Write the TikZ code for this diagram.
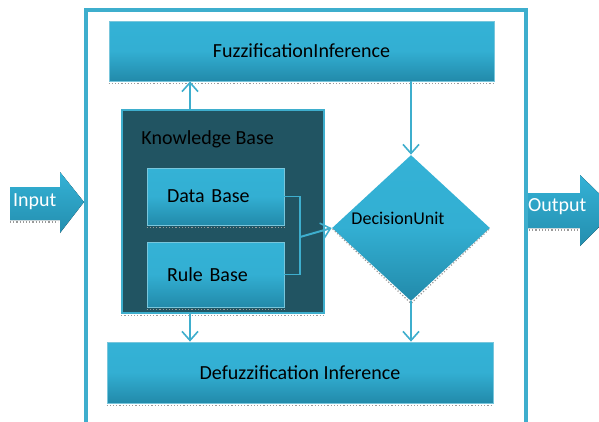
\documentclass[tikz,border=0pt]{standalone}
\usepackage{fontspec}
\setmainfont{Carlito}
\usetikzlibrary{arrows.meta,shapes.geometric}
\definecolor{boxtop}{RGB}{52,178,214}
\definecolor{boxbot}{RGB}{34,138,170}
\definecolor{kbfill}{RGB}{33,84,98}
\definecolor{lineblue}{RGB}{62,174,205}
\tikzset{
  unitbox/.style={draw=lineblue!70!white,line width=0.8pt,top color=boxtop,bottom color=boxbot,middle color=boxtop!92!boxbot,inner sep=0pt},
  flow/.style={draw=lineblue,line width=2pt,-{Straight Barb[length=9pt,width=16pt,line width=1.6pt]}},
  jag/.style={draw=gray!80,line width=1.2pt,dotted},
  ioarrow/.style={top color=boxtop,bottom color=boxbot!90!boxtop},
  iotext/.style={text=white,font=\fontsize{20}{24}\selectfont}
}
\begin{document}
\begin{tikzpicture}[x=1pt,y=-1pt,font=\fontsize{20}{24}\selectfont]
\clip (0,0) rectangle (599,421);
\fill[white] (0,0) rectangle (599,421);

% outer frame
\draw[lineblue,line width=3.5pt] (86,440) -- (86,10) -- (526,10) -- (526,440);

% input / output arrows
\fill[ioarrow] (10,187) -- (60,187) -- (60,172) -- (84,202) -- (60,233) -- (60,220) -- (10,220) -- cycle;
\node[iotext,anchor=west,inner sep=0pt] (intext) at (13,202) {Input};
\fill[ioarrow] (528,193) -- (580,193) -- (580,175) -- (616,210) -- (580,246) -- (580,228) -- (528,228) -- cycle;
\node[iotext,anchor=west,inner sep=0pt] (outtext) at (528,207) {Output};
\draw[jag] (10,222) -- (58,222);
\draw[jag] (529,230) -- (578,230);

% main boxes
\node[unitbox,minimum width=385pt,minimum height=60pt] (fuzz) at (301.5,51) {FuzzificationInference};
\node[unitbox,minimum width=386pt,minimum height=61pt] (defuzz) at (300,372.5) {Defuzzification Inference};

% knowledge base
\node[draw=lineblue,line width=1.5pt,fill=kbfill,minimum width=202pt,minimum height=203pt] (kb) at (223,211.5) {};
\node[anchor=west,inner sep=0pt] (kbtext) at ([xshift=20pt,yshift=-30pt]kb.north west) {Knowledge Base};
\node[unitbox,minimum width=137pt,minimum height=57pt,text width=97pt,align=left] (db) at (215.5,196.5) {Data Base};
\node[unitbox,minimum width=137pt,minimum height=65pt,text width=97pt,align=left] (rb) at (215.5,274.5) {Rule Base};

% decision unit
\node[diamond,unitbox,draw=none,minimum width=158pt,minimum height=146pt] (dec) at (411,228) {};
\node[font=\fontsize{18}{22}\selectfont,inner sep=0pt] (dectext) at ([xshift=-13pt,yshift=10pt]dec.center) {DecisionUnit};

% shadows
\draw[jag] ([yshift=-2pt]fuzz.south west) -- ([yshift=-2pt]fuzz.south east);
\draw[jag] ([yshift=-2pt]defuzz.south west) -- ([yshift=-2pt]defuzz.south east);
\draw[jag] ([yshift=-2pt]kb.south west) -- ([yshift=-2pt]kb.south east);
\draw[jag] ([yshift=-2pt]db.south west) -- ([yshift=-2pt]db.south east);
\draw[jag] ([yshift=-2pt]rb.south west) -- ([yshift=-2pt]rb.south east);
\draw[jag] ([xshift=1pt,yshift=-1pt]dec.west) -- ([yshift=-2pt]dec.south) -- ([xshift=-1pt,yshift=-1pt]dec.east);

% connectors
\coordinate (join) at (300,237);
\draw[lineblue,line width=1.5pt] (db.east) -| (join) |- (rb.east);
\draw[flow] (join) -- (dec.west);
\draw[flow] (dec.north |- fuzz.south) -- (dec.north);
\draw[flow] (dec.south) -- (dec.south |- defuzz.north);
\draw[flow] ([xshift=-33pt]kb.north) -- ([xshift=-33pt]kb.north |- fuzz.south);
\draw[flow] ([xshift=-33pt]kb.south) -- ([xshift=-33pt]kb.south |- defuzz.north);
\end{tikzpicture}
\end{document}
